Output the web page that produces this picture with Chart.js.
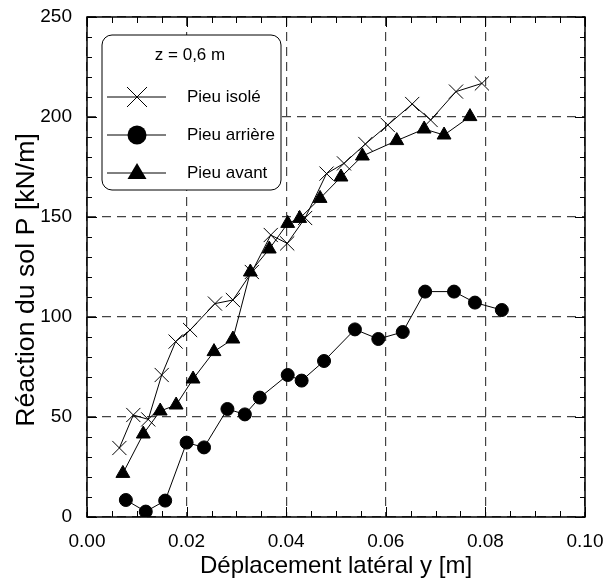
<!DOCTYPE html>
<html>
<head>
<meta charset="utf-8">
<script src="https://cdn.jsdelivr.net/npm/chart.js"></script>
<style>
  body { margin: 0; background: #fff; }
  canvas { display: block; }
</style>
</head>
<body>
<canvas id="grafico" width="607" height="583"></canvas>
<script>
// Pieu isolé (croix)
const isoleX = [0.0065, 0.0093, 0.0123, 0.0150, 0.0178, 0.0207, 0.0257, 0.0293, 0.0331, 0.0369,
                0.0402, 0.0438, 0.0481, 0.0516, 0.0559, 0.0604, 0.0653, 0.0690, 0.0741, 0.0793];
const isoleY = [34.5, 51, 48.8, 71, 87.7, 93.5, 106.7, 108.5, 122.5, 141,
                136.8, 149.5, 171.7, 176.8, 186.5, 196, 206.5, 198.5, 212.7, 216.8];
// Pieu arrière (cercles)
const arriereX = [0.0078, 0.0118, 0.0157, 0.0200, 0.0235, 0.0282, 0.0317, 0.0347, 0.0403,
                  0.0431, 0.0476, 0.0538, 0.0585, 0.0634, 0.0679, 0.0737, 0.0779, 0.0833];
const arriereY = [8.5, 2.7, 8.2, 37.2, 34.8, 54, 51.3, 59.7, 71,
                  68.2, 78, 93.8, 89, 92.5, 112.7, 112.7, 107.2, 103.5];
// Pieu avant (triangles)
const avantX = [0.0072, 0.0113, 0.0147, 0.0179, 0.0213, 0.0255, 0.0293, 0.0328, 0.0366,
                0.0403, 0.0427, 0.0468, 0.0510, 0.0553, 0.0622, 0.0677, 0.0717, 0.0769];
const avantY = [21.8, 41.5, 53, 56, 69, 82.7, 89, 122.5, 134,
                146.8, 149.3, 159.3, 170, 180.5, 188.2, 194, 191, 200.2];

const xTicks = [0, 0.02, 0.04, 0.06, 0.08, 0.10];
const yTicks = [0, 50, 100, 150, 200, 250];
const legendTitle = "z = 0,6 m";
const serieNoms = ["Pieu isolé", "Pieu arrière", "Pieu avant"];
const titreY = "Réaction du sol P [kN/m]";

const police = '"Liberation Sans", Arial, Helvetica, sans-serif';

function points(xs, ys) {
    return xs.map((x, i) => ({ x: x, y: ys[i] }));
}

// cadre + graduations intérieures sur les quatre côtés + titre vertical
const cadrePlugin = {
    id: 'cadre',
    afterDraw(chart) {
        const ctx = chart.ctx;
        const a = chart.chartArea;
        const sx = chart.scales.x, sy = chart.scales.y;
        ctx.save();
        ctx.strokeStyle = '#000';
        ctx.lineWidth = 1;
        ctx.beginPath();
        for (let i = 0; i <= 20; i++) {
            const px = Math.round(sx.getPixelForValue(i * 0.005)) + 0.5;
            const len = i % 4 === 0 ? 10 : 6;
            ctx.moveTo(px, a.bottom); ctx.lineTo(px, a.bottom - len);
            ctx.moveTo(px, a.top); ctx.lineTo(px, a.top + len);
        }
        for (let v = 0; v <= 250; v += 10) {
            const py = Math.round(sy.getPixelForValue(v)) + 0.5;
            const len = v % 50 === 0 ? 10 : 5;
            ctx.moveTo(a.left, py); ctx.lineTo(a.left + len, py);
            ctx.moveTo(a.right, py); ctx.lineTo(a.right - len, py);
        }
        ctx.stroke();
        ctx.lineWidth = 1.5;
        ctx.strokeRect(a.left, a.top, a.right - a.left, a.bottom - a.top);

        // titre de l'axe vertical (un peu plus bas que le centre, comme l'original)
        ctx.translate(33.5, 280);
        ctx.rotate(-Math.PI / 2);
        ctx.fillStyle = '#000';
        ctx.font = '26.7px ' + police;
        ctx.textAlign = 'center';
        ctx.textBaseline = 'alphabetic';
        ctx.fillText(titreY, 0, 0);
        ctx.restore();
    }
};

function dessineMarqueur(ctx, type, x, y) {
    ctx.beginPath();
    if (type === 0) {
        const d = 10;
        ctx.moveTo(x - d, y - d); ctx.lineTo(x + d, y + d);
        ctx.moveTo(x + d, y - d); ctx.lineTo(x - d, y + d);
        ctx.stroke();
    } else if (type === 1) {
        ctx.arc(x, y, 9.5, 0, Math.PI * 2);
        ctx.fill();
    } else {
        ctx.moveTo(x, y - 10);
        ctx.lineTo(x + 9.5, y + 6);
        ctx.lineTo(x - 9.5, y + 6);
        ctx.closePath();
        ctx.fill();
    }
}

// légende encadrée dans le graphique
const legendePlugin = {
    id: 'legende',
    afterDraw(chart) {
        const ctx = chart.ctx;
        const bx = 102, by = 35, bw = 179, bh = 155, r = 10;
        ctx.save();
        ctx.beginPath();
        ctx.moveTo(bx + r, by);
        ctx.arcTo(bx + bw, by, bx + bw, by + bh, r);
        ctx.arcTo(bx + bw, by + bh, bx, by + bh, r);
        ctx.arcTo(bx, by + bh, bx, by, r);
        ctx.arcTo(bx, by, bx + bw, by, r);
        ctx.closePath();
        ctx.fillStyle = '#fff';
        ctx.fill();
        ctx.strokeStyle = '#000';
        ctx.lineWidth = 1;
        ctx.stroke();

        ctx.fillStyle = '#000';
        ctx.font = '17px ' + police;
        ctx.textBaseline = 'middle';
        ctx.textAlign = 'center';
        ctx.fillText(legendTitle, 190, 55);

        const rows = [97, 135, 173];
        serieNoms.forEach((nom, k) => {
            const yy = rows[k];
            ctx.beginPath();
            ctx.moveTo(107, yy); ctx.lineTo(166, yy);
            ctx.stroke();
            dessineMarqueur(ctx, k, 137, yy);
            ctx.textAlign = 'left';
            ctx.fillText(nom, 187, yy);
        });
        ctx.restore();
    }
};

const ctxGraph = document.getElementById('grafico').getContext('2d');
const myChart = new Chart(ctxGraph, {
    type: 'scatter',
    data: {
        datasets: [
            {
                label: serieNoms[0],
                data: points(isoleX, isoleY),
                showLine: true,
                borderColor: '#000',
                backgroundColor: '#000',
                borderWidth: 1,
                pointStyle: 'crossRot',
                pointRadius: 10,
                pointBorderWidth: 1
            },
            {
                label: serieNoms[1],
                data: points(arriereX, arriereY),
                showLine: true,
                borderColor: '#000',
                backgroundColor: '#000',
                borderWidth: 1,
                pointStyle: 'circle',
                pointRadius: 6.5
            },
            {
                label: serieNoms[2],
                data: points(avantX, avantY),
                showLine: true,
                borderColor: '#000',
                backgroundColor: '#000',
                borderWidth: 1,
                pointStyle: 'triangle',
                pointRadius: 8
            }
        ]
    },
    options: {
        responsive: false,
        animation: false,
        events: [],
        layout: { padding: { left: 0, top: 17, right: 22, bottom: 0 } },
        plugins: {
            legend: { display: false },
            tooltip: { enabled: false }
        },
        scales: {
            x: {
                type: 'linear',
                min: 0,
                max: 0.1,
                afterBuildTicks: (s) => { s.ticks = xTicks.map(v => ({ value: v })); },
                afterFit: (s) => { s.height = 66; s.paddingLeft = 0; s.paddingRight = 0; },
                ticks: {
                    callback: v => v.toFixed(2),
                    font: { family: police, size: 19 },
                    color: '#000',
                    padding: 13,
                    maxRotation: 0
                },
                grid: { color: '#444', lineWidth: 1.2, drawTicks: false },
                border: { display: false, dash: [9, 6] },
                title: {
                    display: true,
                    text: 'Déplacement latéral y [m]',
                    font: { family: police, size: 24 },
                    color: '#000',
                    padding: { top: 0, bottom: 2 }
                }
            },
            y: {
                type: 'linear',
                min: 0,
                max: 250,
                afterBuildTicks: (s) => { s.ticks = yTicks.map(v => ({ value: v })); },
                afterFit: (s) => { s.width = 87; s.paddingTop = 0; s.paddingBottom = 0; },
                ticks: {
                    font: { family: police, size: 19 },
                    color: '#000',
                    padding: 15
                },
                grid: { color: '#444', lineWidth: 1.2, drawTicks: false },
                border: { display: false, dash: [9, 6] },
                title: { display: false }
            }
        }
    },
    plugins: [cadrePlugin, legendePlugin]
});
</script>
</body>
</html>
